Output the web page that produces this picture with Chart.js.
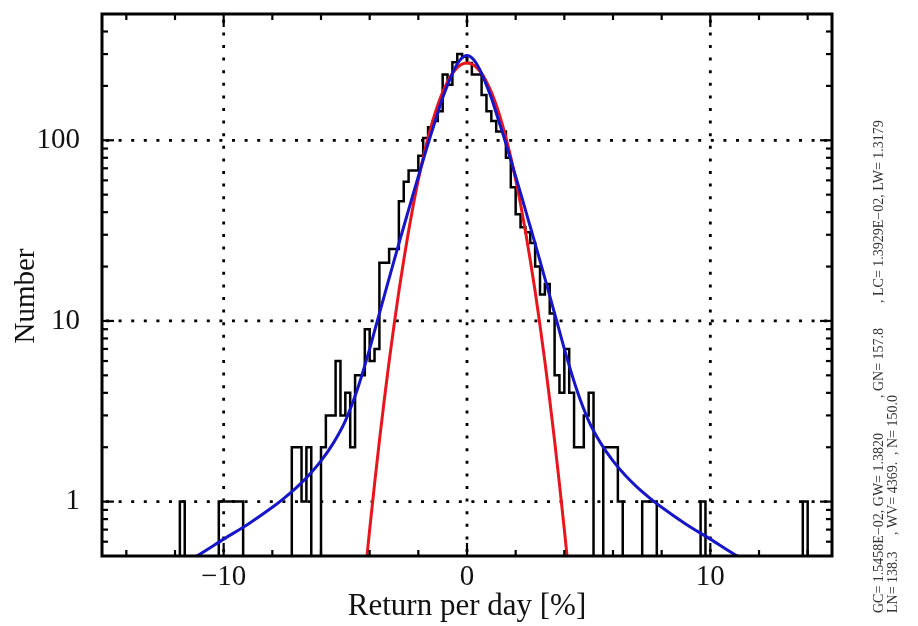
<!DOCTYPE html>
<html><head><meta charset="utf-8">
<script src="https://cdn.jsdelivr.net/npm/chart.js@4.4.1/dist/chart.umd.min.js"></script>
<style>html,body{margin:0;padding:0;background:#fff}</style>
</head><body>
<canvas id="c" width="918" height="626"></canvas>
<script>
// ---------------- data ----------------
const binStart = -12.0;   // left edge of first bin
const binWidth = 0.2;
// counts per bin, starting at -12.0 (5 bins per unit)
const counts = [
  0,0,1,0,0,        // -12
  0,0,0,0,0,        // -11
  1,1,1,1,1,        // -10
  0,0,0,0,0,        // -9
  0,0,0,0,0,        // -8
  2,2,1,2,0,        // -7
  0,2,3,3,6,        // -6
  3,4,2,5,5,        // -5
  9,6,7,21,21,      // -4
  25,25,46,59,68,   // -3
  68,82,103,118,128,// -2
  145,231,203,270,300, // -1
  290,268,231,231,178, // 0
  145,128,112,112,80,  // 1
  55,39,33,31,27,   // 2
  20,14,16,11,5,    // 3
  4,7,4,2,2,        // 4
  3,4,0,0,2,        // 5
  2,2,1,0,0,        // 6
  0,0,1,1,1,        // 7
  0,0,0,0,0,        // 8
  0,0,0,0,1,        // 9
  0,0,0,0,0,        // 10
  0,0,0,0,0,        // 11
  0,0,0,0,0,        // 12
  0,0,0,0,0,        // 13
  1,0               // 14
];
const redX = [-4.4,-4.2,-4.0,-3.8,-3.6,-3.4,-3.2,-3.0,-2.8,-2.6,-2.4,-2.2,-2.0,-1.8,-1.6,-1.4,-1.2,-1.0,-0.8,-0.6,-0.4,-0.2,0,
              0.2,0.4,0.6,0.8,1.0,1.2,1.4,1.6,1.8,2.0,2.2,2.4,2.6,2.8,3.0,3.2,3.4,3.6,3.8,4.0,4.2,4.4];
const redY = [0.201,0.381,0.70,1.25,2.17,3.65,5.97,9.45,14.6,21.7,31.5,44.4,60.6,80.4,103.5,129.4,156.9,184.8,211.3,234.4,252.5,264.0,268,
              264.0,252.5,234.4,211.3,184.8,156.9,129.4,103.5,80.4,60.6,44.4,31.5,21.7,14.6,9.45,5.97,3.65,2.17,1.25,0.70,0.381,0.201];
const blueX = [-11.5,-11,-10,-9,-8,-7.5,-7,-6.5,-6,-5.5,-5,-4.5,-4,-3.75,-3.5,-3.25,-3,-2.75,-2.5,-2.25,-2,-1.75,-1.5,-1.25,-1,-0.75,-0.5,-0.25,0,
               0.25,0.5,0.75,1,1.25,1.5,1.75,2,2.25,2.5,2.75,3,3.25,3.5,3.75,4,4.5,5,5.5,6,6.5,7,7.5,8,9,10,11,11.5];
const blueY = [0.47,0.51,0.62,0.75,0.93,1.05,1.2,1.4,1.68,2.1,2.8,4.2,7.0,9.3,12.3,16.3,21.5,28.3,37,48.5,63,82,106,135,172,210,250,282,295,
               282,250,210,172,135,106,82,63,48.5,37,28.3,21.5,16.3,12.3,9.3,7.0,4.2,2.8,2.1,1.68,1.4,1.2,1.05,0.93,0.75,0.62,0.51,0.47];
const xMajor = [-10, 0, 10];
const xMinor = [-14,-12,-8,-6,-4,-2,2,4,6,8,12,14];
const yMajor = [1, 10, 100];
const yMinor = [0.6,0.7,0.8,0.9,2,3,4,5,6,7,8,9,20,30,40,50,60,70,80,90,200,300,400];
const xTitle = 'Return per day [%]';
const yTitle = 'Number';
const sideText = [
  // [line x, start y (bottom), text]
  [879, 613, 'GC= 1.5458E\u221202, GW= 1.3820'],
  [879, 398, ', GN= 157.8'],
  [879, 303, ', LC= 1.3929E\u221202, LW= 1.3179'],
  [893, 613, 'LN= 138.3'],
  [893, 535, ', WV= 4369.'],
  [893, 455, ', N= 150.0']
];

// ---------------- build ----------------
const FLOOR = 0.2; // zero counts drawn below the axis (clipped)
const histPts = counts.map((c, i) => ({x: binStart + i * binWidth, y: c > 0 ? c : FLOOR}));
histPts.push({x: binStart + counts.length * binWidth, y: FLOOR});
const redPts = redX.map((v, i) => ({x: v, y: redY[i]}));
const bluePts = blueX.map((v, i) => ({x: v, y: blueY[i]}));

const serif = "'Liberation Serif','Times New Roman',serif";
const FS = 29;

function seg(ctx, x1, y1, x2, y2) { ctx.beginPath(); ctx.moveTo(x1, y1); ctx.lineTo(x2, y2); ctx.stroke(); }
function noPad(s) { s.paddingTop = 0; s.paddingBottom = 0; s.paddingLeft = 0; s.paddingRight = 0; }

const framePlugin = {
  id: 'frame',
  beforeDatasetsDraw(chart) {
    const {ctx, chartArea: a, scales: {x, y}} = chart;
    ctx.save();
    ctx.strokeStyle = '#000';
    ctx.lineWidth = 2.8;
    ctx.setLineDash([3, 9.6]);
    xMajor.forEach(v => { const p = x.getPixelForValue(v); seg(ctx, p, a.bottom - 4, p, a.top + 4); });
    yMajor.forEach(v => { const p = y.getPixelForValue(v); seg(ctx, a.left + 4, p, a.right - 4, p); });
    ctx.restore();
  },
  afterDatasetsDraw(chart) {
    const {ctx, chartArea: a, scales: {x, y}} = chart;
    ctx.save();
    ctx.strokeStyle = '#000';
    ctx.setLineDash([]);
    ctx.lineWidth = 2.2;
    const xt = (v, len) => { const p = x.getPixelForValue(v); seg(ctx, p, a.bottom, p, a.bottom - len); seg(ctx, p, a.top, p, a.top + len); };
    const yt = (v, len) => { const p = y.getPixelForValue(v); seg(ctx, a.left, p, a.left + len, p); seg(ctx, a.right, p, a.right - len, p); };
    xMinor.forEach(v => xt(v, 6));
    xMajor.forEach(v => xt(v, 13));
    yMinor.forEach(v => yt(v, 6));
    yMajor.forEach(v => yt(v, 12));
    ctx.lineWidth = 3;
    ctx.strokeRect(a.left, a.top, a.right - a.left, a.bottom - a.top);
    ctx.restore();
  },
  afterDraw(chart) {
    const {ctx} = chart;
    ctx.save();
    ctx.fillStyle = '#111';
    ctx.font = FS + 'px ' + serif;
    ctx.textAlign = 'center';
    ctx.textBaseline = 'middle';
    ctx.translate(26, 296);
    ctx.rotate(-Math.PI / 2);
    ctx.fillText(yTitle, 0, 0);
    ctx.restore();
    ctx.save();
    ctx.fillStyle = '#333';
    ctx.font = '14px ' + serif;
    ctx.textAlign = 'left';
    ctx.textBaseline = 'middle';
    sideText.forEach(([tx, ty, t]) => {
      ctx.save();
      ctx.translate(tx, ty);
      ctx.rotate(-Math.PI / 2);
      ctx.fillText(t, 0, 0);
      ctx.restore();
    });
    ctx.restore();
  }
};

new Chart(document.getElementById('c'), {
  type: 'line',
  data: {
    datasets: [
      {data: bluePts, borderColor: '#1616c8', borderWidth: 3, pointRadius: 0, fill: false, cubicInterpolationMode: 'monotone'},
      {data: redPts, borderColor: '#e8161c', borderWidth: 3, pointRadius: 0, fill: false, cubicInterpolationMode: 'monotone'},
      {data: histPts, borderColor: '#000', borderWidth: 2.5, pointRadius: 0, fill: false, stepped: 'after'}
    ]
  },
  options: {
    responsive: false,
    animation: false,
    events: [],
    layout: {padding: {top: 14, right: 86, bottom: 0, left: 0}},
    plugins: {legend: {display: false}, tooltip: {enabled: false}},
    scales: {
      x: {
        type: 'linear', min: -15, max: 15,
        afterBuildTicks: s => { s.ticks = xMajor.map(v => ({value: v})); },
        afterFit: s => { s.height = 70; noPad(s); },
        grid: {display: false, drawTicks: false},
        border: {display: false},
        ticks: {font: {family: serif, size: FS}, color: '#111', padding: 4, maxRotation: 0, autoSkip: false,
                callback: v => String(v).replace('-', '\u2212')},
        title: {display: true, text: xTitle, font: {family: serif, size: 31}, color: '#111', padding: {top: 0, bottom: 1}}
      },
      y: {
        type: 'logarithmic', min: 0.5, max: 500,
        afterBuildTicks: s => { s.ticks = yMajor.map(v => ({value: v})); },
        afterFit: s => { s.width = 102; noPad(s); },
        grid: {display: false, drawTicks: false},
        border: {display: false},
        ticks: {font: {family: serif, size: FS}, color: '#111', padding: 22, autoSkip: false,
                callback: v => String(v)}
      }
    }
  },
  plugins: [framePlugin]
});
</script>
</body></html>
